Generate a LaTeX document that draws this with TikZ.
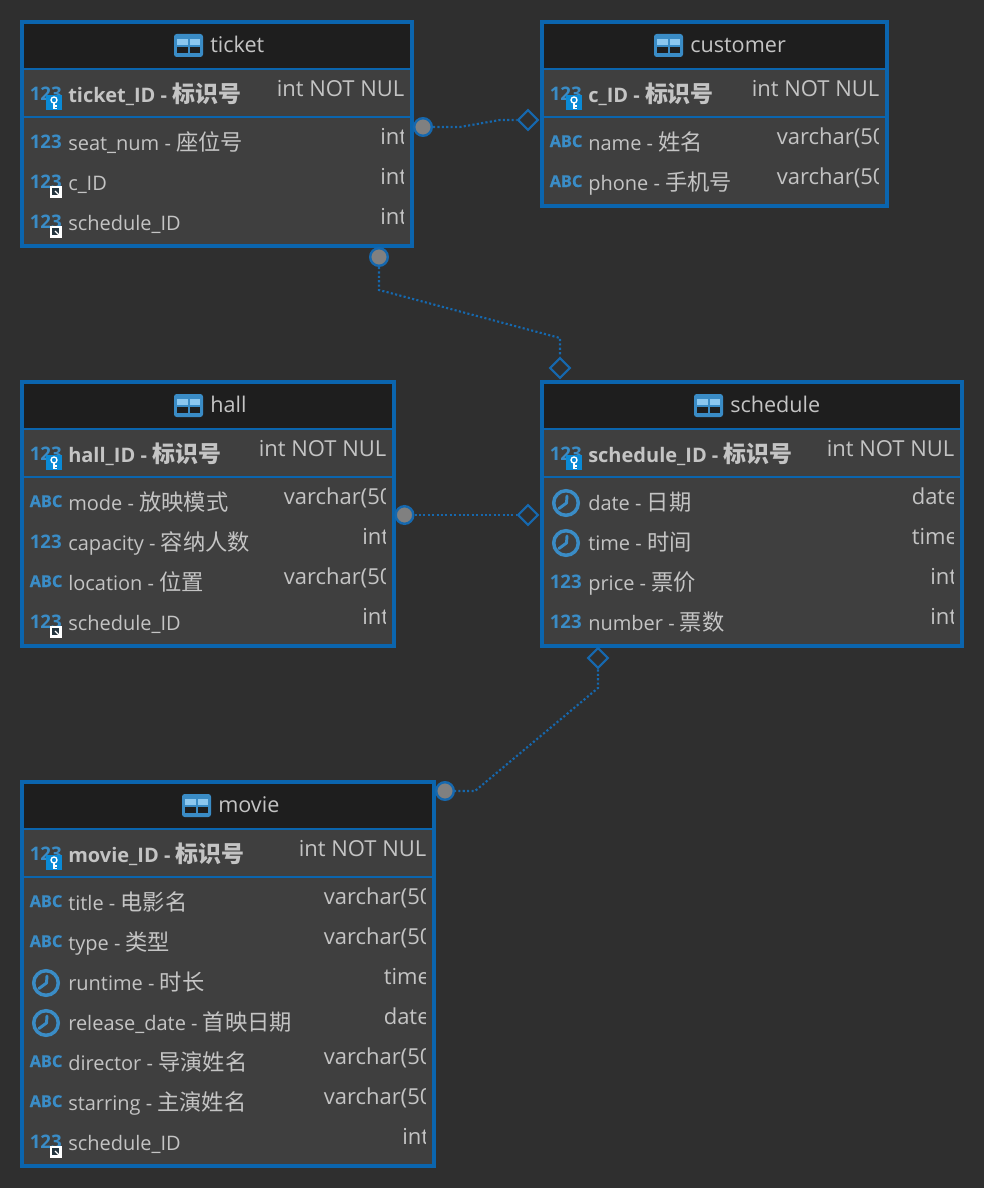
\documentclass[tikz,border=0pt]{standalone}
\usepackage{fontspec}
\setmainfont{Open Sans}
\newfontfamily\cjk{Noto Sans CJK SC}
\newfontfamily\abcfont[BoldFeatures={FakeBold=0.6}]{Open Sans}
\usetikzlibrary{shapes.geometric}
\definecolor{bgc}{HTML}{2F2F2F}
\definecolor{panel}{HTML}{3F3F3F}
\definecolor{headc}{HTML}{1E1E1E}
\definecolor{edge}{HTML}{0B65AE}
\definecolor{iconc}{HTML}{3A8CC6}
\definecolor{lightc}{HTML}{8CC8F0}
\definecolor{txt}{HTML}{C4C4C4}
\definecolor{keyc}{HTML}{0A8AD6}
\definecolor{linkc}{HTML}{1668AE}
\definecolor{dotc}{HTML}{808080}
\newcommand\zh[1]{{\cjk\fontsize{16.7}{18}\selectfont #1}}
\newcommand\zhb[1]{{\cjk\fontsize{17.2}{18}\selectfont #1}}
\tikzset{
  tablebox/.style={draw=edge,line width=3pt,fill=panel,inner sep=0pt,rectangle},
  sepline/.style={draw=edge,line width=1.5pt},
  nametext/.style={anchor=base west,inner sep=0pt,text=txt,font=\fontsize{15}{18}\selectfont},
  typetext/.style={anchor=base west,inner sep=0pt,text=txt,font=\fontsize{16.5}{18}\selectfont},
  titletext/.style={anchor=base west,inner sep=0pt,text=txt,font=\fontsize{16.2}{18}\selectfont},
  numtext/.style={anchor=base west,inner sep=0pt,text=iconc,font=\fontsize{14}{16}\selectfont\bfseries},
  abctext/.style={anchor=base west,inner sep=0pt,text=iconc,font=\abcfont\fontsize{12.2}{14}\selectfont\bfseries},
  clockface/.style={draw=iconc,line width=2.6pt,line cap=round},
  linkline/.style={draw=linkc,line width=1.6pt,dash pattern=on 1.6pt off 1.7pt},
  endcircle/.style={circle,draw=linkc,line width=1.8pt,fill=dotc,minimum size=13.2pt,inner sep=0pt},
  enddiamond/.style={diamond,aspect=1,draw=linkc,line width=1.6pt,fill=bgc,minimum width=15.5pt,minimum height=15.5pt,inner sep=0pt},
}
\newcommand\tbl[8]{% name x1 y1 x2 y2 iconx textx title (header = y1+47, key = y1+95)
  \def\Xa{#2}\def\Xb{#4}
  \pgfmathsetmacro\Cx{(#2+#4)/2}\pgfmathsetmacro\Cy{(#3+#5)/2}
  \pgfmathsetmacro\Wd{(#4-#2)*0.75}\pgfmathsetmacro\Ht{(#5-#3)*0.75}
  \node[tablebox,minimum width=\Wd pt,minimum height=\Ht pt] (#1) at (\Cx,\Cy) {};
  \fill[headc] (#2+2,#3+2) rectangle (#4-2,#3+47);
  \draw[sepline] (#2,#3+47) -- (#4,#3+47);
  \draw[sepline] (#2,#3+95) -- (#4,#3+95);
  \fill[iconc,rounded corners=2pt] (#6,#3+12) rectangle (#6+29,#3+35);
  \fill[lightc] (#6+3,#3+17) rectangle (#6+13.5,#3+23);
  \fill[lightc] (#6+15.5,#3+17) rectangle (#6+26,#3+23);
  \fill[headc] (#6+3,#3+25) rectangle (#6+13.5,#3+31);
  \fill[headc] (#6+15.5,#3+25) rectangle (#6+26,#3+31);
  \node[titletext] (#1-title) at (#7,#3+30.7) {#8};
}
\newcommand\numicon[2]{\node[numtext] (#1-icon) at (\Xa+7.5,#2+6) {123};}
\newcommand\abcicon[2]{\node[abctext] (#1-icon) at (\Xa+7.5,#2+5) {ABC};}
\newcommand\clockicon[2]{%
  \draw[clockface] (\Xa+24,#2+1) circle (12.3);
  \draw[clockface,line width=2.2pt,line join=round] (\Xa+25,#2-6) -- (\Xa+24.5,#2+1) -- (\Xa+17,#2+6.5);
}
\newcommand\keybadge[1]{%
  \fill[keyc] (\Xa+24,#1+1) rectangle (\Xa+40,#1+16);
  \draw[white,line width=1pt] (\Xa+32,#1+6) circle (3);
  \draw[white,line width=1.2pt] (\Xa+32,#1+9) -- (\Xa+32,#1+15) (\Xa+32,#1+12) -- (\Xa+35,#1+12) (\Xa+32,#1+14.5) -- (\Xa+35,#1+14.5);
}
\newcommand\fkbadge[1]{%
  \fill[white] (\Xa+28,#1+4) rectangle (\Xa+40,#1+16);
  \fill[headc!80!iconc] (\Xa+30,#1+6) rectangle (\Xa+37,#1+13);
  \draw[white,line width=1pt] (\Xa+33,#1+9) -- (\Xa+38,#1+14);
}
\newcommand\fld[6]{% id icon y name type visiblewidth
  #2{#1}{#3}
  \node[nametext] (#1-name) at (\Xa+46,#3+8.3) {#4};
  \begin{scope}
    \clip (\Xa,#3-30) rectangle (\Xb-8.5,#3+30);
    \node[typetext] (#1-type) at (\Xb-8.5-#6,#3+2.5) {#5};
  \end{scope}
}
\begin{document}
\begin{tikzpicture}[x=0.75pt,y=-0.75pt]
\useasboundingbox (0,0) rectangle (984,1188);
\fill[bgc] (0,0) rectangle (984,1188);

% ticket
\tbl{ticket}{22}{22}{412}{246}{174}{210}{ticket}
\fld{t0}{\numicon}{94}{\textbf{ticket\_ID - \zhb{标识号}}}{int NOT NUL}{127}\keybadge{94}
\fld{t1}{\numicon}{142}{seat\_num - \zh{座位号}}{int}{23.5}
\fld{t2}{\numicon}{182}{c\_ID}{int}{23.5}\fkbadge{182}
\fld{t3}{\numicon}{222}{schedule\_ID}{int}{23.5}\fkbadge{222}

% customer
\tbl{customer}{542}{22}{887}{206}{654}{690}{customer}
\fld{c0}{\numicon}{94}{\textbf{c\_ID - \zhb{标识号}}}{int NOT NUL}{127}\keybadge{94}
\fld{c1}{\abcicon}{142}{name - \zh{姓名}}{varchar(50}{102}
\fld{c2}{\abcicon}{182}{phone - \zh{手机号}}{varchar(50}{102}

% hall
\tbl{hall}{22}{382}{394}{646}{174}{210}{hall}
\fld{h0}{\numicon}{454}{\textbf{hall\_ID - \zhb{标识号}}}{int NOT NUL}{127}\keybadge{454}
\fld{h1}{\abcicon}{502}{mode - \zh{放映模式}}{varchar(50}{102}
\fld{h2}{\numicon}{542}{capacity - \zh{容纳人数}}{int}{23.5}
\fld{h3}{\abcicon}{582}{location - \zh{位置}}{varchar(50}{102}
\fld{h4}{\numicon}{622}{schedule\_ID}{int}{23.5}\fkbadge{622}

% schedule
\tbl{schedule}{542}{382}{962}{646}{694}{730}{schedule}
\fld{s0}{\numicon}{454}{\textbf{schedule\_ID - \zhb{标识号}}}{int NOT NUL}{127}\keybadge{454}
\fld{s1}{\clockicon}{502}{date - \zh{日期}}{date}{42}
\fld{s2}{\clockicon}{542}{time - \zh{时间}}{time}{42}
\fld{s3}{\numicon}{582}{price - \zh{票价}}{int}{23.5}
\fld{s4}{\numicon}{622}{number - \zh{票数}}{int}{23.5}

% movie
\tbl{movie}{22}{782}{434}{1166}{182}{218}{movie}
\fld{m0}{\numicon}{854}{\textbf{movie\_ID - \zhb{标识号}}}{int NOT NUL}{127}\keybadge{854}
\fld{m1}{\abcicon}{902}{title - \zh{电影名}}{varchar(50}{102}
\fld{m2}{\abcicon}{942}{type - \zh{类型}}{varchar(50}{102}
\fld{m3}{\clockicon}{982}{runtime - \zh{时长}}{time}{42}
\fld{m4}{\clockicon}{1022}{release\_date - \zh{首映日期}}{date}{42}
\fld{m5}{\abcicon}{1062}{director - \zh{导演姓名}}{varchar(50}{102}
\fld{m6}{\abcicon}{1102}{starring - \zh{主演姓名}}{varchar(50}{102}
\fld{m7}{\numicon}{1142}{schedule\_ID}{int}{23.5}\fkbadge{1142}

% relationship ends
\node[endcircle] (e1a) at (423,127) {};
\node[enddiamond] (e1b) at (528,120) {};
\node[endcircle] (e2a) at (379,257) {};
\node[enddiamond] (e2b) at (560,368) {};
\node[endcircle] (e3a) at (404.5,515) {};
\node[enddiamond] (e3b) at (528,515) {};
\node[endcircle] (e4a) at (445,791) {};
\node[enddiamond] (e4b) at (598,658) {};

% relationship lines
\draw[linkline] (e1a) -- (460,127) -- (500,120) -- (e1b);
\draw[linkline] (e2a) -- (379,290) -- (560,338) -- (e2b);
\draw[linkline] (e3a) -- (e3b);
\draw[linkline] (e4b) -- (598,688) -- (475,791) -- (e4a);
\end{tikzpicture}
\end{document}
